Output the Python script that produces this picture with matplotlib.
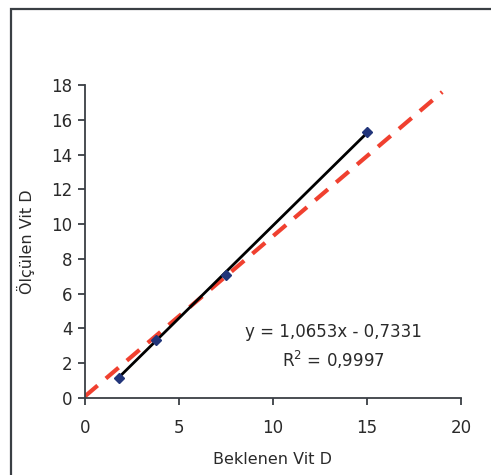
import matplotlib.pyplot as plt
from matplotlib.patches import Rectangle

# veri
beklenen = [1.8, 3.8, 7.5, 15.0]
olculen = [1.15, 3.35, 7.05, 15.3]
egim = 1.0653
kesim = -0.7331
r2 = 0.9997
# kesikli referans çizgisi (uç noktalar)
ref_x = [0.0, 19.0]
ref_y = [0.1, 17.6]

plt.rcParams['font.family'] = ['DejaVu Sans']

fig = plt.figure(figsize=(4.91, 4.75), dpi=100)
ax = fig.add_axes([0.173, 0.162, 0.766, 0.659])

# dış çerçeve
fig.patches.append(Rectangle((11 / 491, -0.1), 1.2, 1.1 - 9 / 475,
                             transform=fig.transFigure, fill=False,
                             edgecolor='#3a3f44', linewidth=1.6))

ax.plot(ref_x, ref_y, color='#f0402f', linestyle=(0, (4, 2.6)), linewidth=3, zorder=2)
fx = [min(beklenen), max(beklenen)]
fy = [egim * v + kesim for v in fx]
ax.plot(fx, fy, color='black', linewidth=2, zorder=3)
ax.plot(beklenen, olculen, linestyle='none', marker='D', markersize=5,
        color='#22357a', zorder=4)

ax.set_xlim(0, 20)
ax.set_ylim(0, 18)
ax.set_xticks([0, 5, 10, 15, 20])
ax.set_yticks(range(0, 19, 2))
for s in ['top', 'right']:
    ax.spines[s].set_visible(False)
for s in ['left', 'bottom']:
    ax.spines[s].set_color('#3a3f44')
    ax.spines[s].set_linewidth(1.3)
ax.tick_params(direction='out', length=5, width=1.3, color='#3a3f44',
               labelsize=12, labelcolor='#2a2a2a', pad=4)
ax.tick_params(axis='x', pad=10)

ax.set_xlabel('Beklenen Vit D', fontsize=11.5, color='#2a2a2a', labelpad=11)
ax.set_ylabel('Ölçülen Vit D', fontsize=11.5, color='#2a2a2a', labelpad=12)

ax.text(13.2, 3.8, f'y = {egim:.4f}x - {abs(kesim):.4f}'.replace('.', ','),
        ha='center', va='center', fontsize=12, color='#2a2a2a')
ax.text(13.2, 2.2, f'R$^2$ = {r2:.4f}'.replace('.', ','),
        ha='center', va='center', fontsize=12, color='#2a2a2a')

plt.savefig('out.png', dpi=100)
